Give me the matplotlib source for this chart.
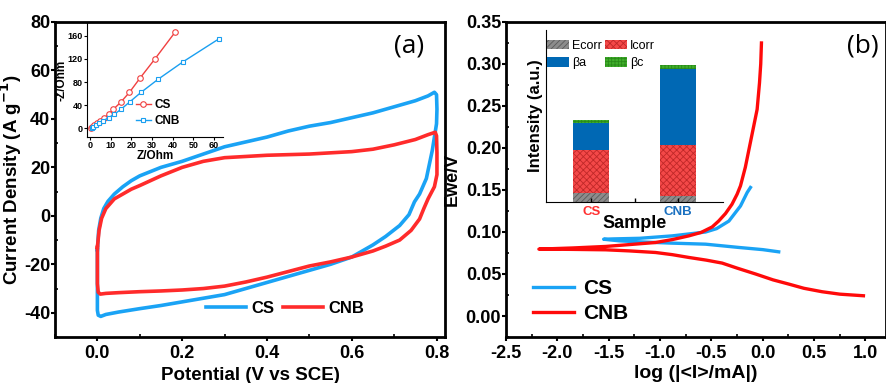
import numpy as np
import matplotlib
matplotlib.use('Agg')
import matplotlib.pyplot as plt
from matplotlib.patches import Patch
from matplotlib.ticker import MultipleLocator

plt.rcParams['font.family'] = ['Liberation Sans', 'DejaVu Sans']
plt.rcParams['axes.unicode_minus'] = False
plt.rcParams['hatch.linewidth'] = 0.6

# ---- (a) cyclic voltammetry ----
cs_v = [0.0, 0.003, 0.008, 0.015, 0.025, 0.04, 0.06, 0.08, 0.1, 0.15, 0.2, 0.25, 0.3, 0.35, 0.4,
        0.45, 0.5, 0.55, 0.6, 0.65, 0.7, 0.75, 0.78, 0.795, 0.8, 0.801, 0.8, 0.79, 0.776, 0.76,
        0.748, 0.735, 0.713, 0.68, 0.65, 0.6, 0.55, 0.5, 0.45, 0.4, 0.35, 0.3, 0.25, 0.2, 0.15,
        0.1, 0.05, 0.02, 0.008, 0.002, 0.0, 0.0, 0.0]
cs_j = [-14, -6, -1, 3, 6, 9, 12, 14.5, 16.5, 20, 22.5, 25.5, 28.5, 30.5, 32.5,
        35, 37, 38.5, 40.5, 42.5, 45, 47.5, 49.5, 51, 50, 44, 38, 27, 15.4, 9,
        5.8, 0.5, -4, -8.5, -12, -17, -20, -22.5, -25, -27.5, -30, -32.5, -34, -35.5, -37,
        -38.3, -39.7, -40.7, -41.5, -41, -39, -30, -14]

cnb_v = [0.0, 0.004, 0.01, 0.02, 0.03, 0.04, 0.06, 0.08, 0.1, 0.15, 0.2, 0.25, 0.3, 0.35, 0.4,
         0.5, 0.6, 0.65, 0.7, 0.75, 0.78, 0.797, 0.8, 0.801, 0.801, 0.795, 0.78, 0.77, 0.76,
         0.74, 0.713, 0.68, 0.65, 0.6, 0.55, 0.5, 0.45, 0.4, 0.35, 0.3, 0.25, 0.2, 0.15,
         0.1, 0.05, 0.02, 0.007, 0.002, 0.0, 0.0, 0.0]
cnb_j = [-13, -6, -1, 3, 5, 7, 9, 11, 12.5, 16.5, 20, 22.5, 24, 24.5, 25,
         25.5, 26.5, 27.5, 29.3, 31.5, 33.5, 34.5, 33, 26, 17, 12, 7, 3, -1.3,
         -6, -10, -12.5, -14.5, -17, -19, -20.7, -23, -25.3, -27.3, -29, -30, -30.6, -31,
         -31.3, -31.7, -32, -32.3, -31.5, -28, -20, -13]

# inset (a): Nyquist
eis_cs_re = [0.3, 1.0, 1.9, 3.2, 4.8, 6.9, 8.9, 11.3, 14.8, 19.0, 24.2, 31.4, 41.1]
eis_cs_im = [0, 2, 5, 9, 13, 18, 24, 33, 45, 62, 87, 120, 166]
eis_cnb_re = [0.8, 1.6, 2.9, 4.5, 6.4, 8.9, 11.6, 15.0, 19.3, 24.6, 33.0, 45.0, 62.5]
eis_cnb_im = [0, 2, 5, 9, 13, 18.5, 24, 33, 46, 62, 85, 115, 155]

# ---- (b) Tafel ----
cs_logi = [-0.12, -0.152, -0.217, -0.33, -0.45, -0.557, -0.88, -1.2, -1.45, -1.55,
           -1.4, -1.206, -0.9, -0.557, -0.233, 0.0, 0.155]
cs_e = [0.153, 0.147, 0.131, 0.113, 0.104, 0.1, 0.0954, 0.0925, 0.0918, 0.0914,
        0.0895, 0.0883, 0.0868, 0.0855, 0.0816, 0.079, 0.0764]
cnb_logi = [-0.013, -0.02, -0.032, -0.055, -0.09, -0.12, -0.17, -0.217, -0.25, -0.3, -0.363,
            -0.43, -0.493, -0.6, -0.72, -0.88, -1.044, -1.3, -1.53, -1.85, -2.18,
            -1.85, -1.53, -1.3, -1.044, -0.88, -0.72, -0.55, -0.396, -0.25, -0.07, 0.1,
            0.253, 0.4, 0.577, 0.75, 0.98]
cnb_e = [0.325, 0.3, 0.2775, 0.246, 0.225, 0.207, 0.177, 0.155, 0.145, 0.133, 0.122,
         0.113, 0.106, 0.0995, 0.0954, 0.091, 0.0875, 0.085, 0.0828, 0.081, 0.0796,
         0.0793, 0.0788, 0.0775, 0.0756, 0.073, 0.0697, 0.0665, 0.063, 0.057, 0.05, 0.043,
         0.038, 0.033, 0.0289, 0.026, 0.0241]

# inset (b): stacked bars
samples = ['CS', 'CNB']
ecorr = [9, 6]
icorr = [43.3, 50.7]
beta_a = [27, 76.6]
beta_c = [2.4, 4]

blue = '#1aa3f5'
red = '#ff2b2b'

fig = plt.figure(figsize=(8.87, 3.83), dpi=100)

# ---------- panel a ----------
ax1 = fig.add_axes([0.062, 0.1201, 0.4397, 0.8225])
ax1.plot(cs_v, cs_j, color=blue, lw=2.6, label='CS')
ax1.plot(cnb_v, cnb_j, color=red, lw=2.6, label='CNB')
ax1.set_xlim(-0.1, 0.82)
ax1.set_ylim(-50, 80)
ax1.xaxis.set_major_locator(MultipleLocator(0.2))
ax1.xaxis.set_minor_locator(MultipleLocator(0.1))
ax1.yaxis.set_major_locator(MultipleLocator(20))
ax1.yaxis.set_minor_locator(MultipleLocator(10))
ax1.set_xlabel('Potential (V vs SCE)', fontsize=13.5, fontweight='bold', labelpad=3)
ax1.set_ylabel(r'Current Density (A g$^{\mathbf{-1}}$)', fontsize=13.5, fontweight='bold')
ax1.yaxis.set_label_coords(-0.08, 0.5)
ax1.legend(loc='center', bbox_to_anchor=(0.59, 0.092), ncol=2, frameon=False,
           prop={'weight': 'bold', 'size': 12}, handlelength=2.4, handletextpad=0.35,
           columnspacing=0.5)
ax1.text(0.908, 0.925, '(a)', transform=ax1.transAxes, ha='center', va='center',
         fontsize=19, family='Open Sans')

# inset a
axa = fig.add_axes([0.0981, 0.6423, 0.1533, 0.2977])
axa.plot(eis_cs_re, eis_cs_im, color='#f04040', lw=1, marker='o', ms=4, mfc='white',
         mew=0.8, label='CS')
axa.plot(eis_cnb_re, eis_cnb_im, color='#1a9ff0', lw=1, marker='s', ms=3.5, mfc='white',
         mew=0.8, label='CNB')
axa.set_xlim(-1.5, 64.3)
axa.set_ylim(-15, 182)
axa.set_xticks([0, 10, 20, 30, 40, 50, 60])
axa.set_yticks([0, 40, 80, 120, 160])
axa.spines['top'].set_visible(False)
axa.spines['right'].set_visible(False)
axa.patch.set_alpha(0)
axa.tick_params(labelsize=6.5, length=2, width=0.8, pad=1)
for lb in axa.get_xticklabels() + axa.get_yticklabels():
    lb.set_fontweight('bold')
axa.set_xlabel('Z/Ohm', fontsize=8.5, fontweight='bold', labelpad=0)
axa.set_ylabel('-Z/Ohm', fontsize=8.5, fontweight='bold', labelpad=0)
axa.legend(loc='center', bbox_to_anchor=(0.52, 0.21), frameon=False,
           prop={'weight': 'bold', 'size': 8.5}, handlelength=1.3, handletextpad=0.3,
           labelspacing=0.35)

# ---------- panel b ----------
ax2 = fig.add_axes([0.5705, 0.1201, 0.4284, 0.8225])
ax2.plot(cs_logi, cs_e, color=blue, lw=2.4, label='CS')
ax2.plot(cnb_logi, cnb_e, color='#ff0a0a', lw=2.4, label='CNB')
ax2.set_xlim(-2.5, 1.2)
ax2.set_ylim(-0.025, 0.35)
ax2.xaxis.set_major_locator(MultipleLocator(0.5))
ax2.xaxis.set_minor_locator(MultipleLocator(0.25))
ax2.yaxis.set_major_locator(MultipleLocator(0.05))
ax2.yaxis.set_minor_locator(MultipleLocator(0.025))
ax2.set_xlabel('log (|<I>/mA|)', fontsize=14, fontweight='bold', labelpad=2)
ax2.set_ylabel('Ewe/V', fontsize=13, fontweight='bold')
ax2.yaxis.set_label_coords(-0.118, 0.5)
ax2.legend(loc='center left', bbox_to_anchor=(0.021, 0.114), frameon=False,
           prop={'weight': 'bold', 'size': 15}, handlelength=2.0, handletextpad=0.4,
           labelspacing=0.3)
ax2.text(0.938, 0.925, '(b)', transform=ax2.transAxes, ha='center', va='center',
         fontsize=19, family='Open Sans')

for ax in (ax1, ax2):
    for sp in ax.spines.values():
        sp.set_linewidth(2)
    ax.tick_params(which='major', direction='out', length=3, width=1.5, labelsize=13)
    ax.tick_params(which='minor', direction='in', length=2.5, width=1.2)
    ax.tick_params(axis='x', which='major', pad=3)
    ax.tick_params(axis='y', which='major', pad=0.5)
    for lb in ax.get_xticklabels() + ax.get_yticklabels():
        lb.set_fontweight('bold')

# inset b
axb = fig.add_axes([0.6156, 0.4726, 0.1996, 0.449])
xpos = np.arange(1, len(samples) + 1)
w = 0.42
b1 = np.array(ecorr)
b2 = b1 + np.array(icorr)
b3 = b2 + np.array(beta_a)
axb.bar(xpos, ecorr, w, color='#8c8c8c', edgecolor='#5a5a5a', hatch='//////', lw=0)
axb.bar(xpos, icorr, w, bottom=b1, color='#f44848', edgecolor='#c02828', hatch='xxxxx', lw=0)
axb.bar(xpos, beta_a, w, bottom=b2, color='#0068b4', lw=0)
axb.bar(xpos, beta_c, w, bottom=b3, color='#3fae2a', edgecolor='#2a8a1a', hatch='+++++', lw=0)
axb.set_xlim(0.48, 2.52)
axb.set_ylim(0, 172)
axb.set_xticks(xpos)
axb.set_xticklabels(samples)
axb.set_xticks([1.5], minor=True)
axb.set_yticks([])
axb.spines['top'].set_visible(False)
axb.spines['right'].set_visible(False)
axb.patch.set_alpha(0)
axb.tick_params(which='both', axis='x', direction='in', length=3, width=1, pad=3)
for lb, c in zip(axb.get_xticklabels(), ['#ff3030', '#1a70c0']):
    lb.set_color(c)
    lb.set_fontweight('bold')
    lb.set_fontsize(9.5)
axb.set_xlabel('Sample', fontsize=13, fontweight='bold', labelpad=-2)
axb.set_ylabel('Intensity (a.u.)', fontsize=12, fontweight='bold', labelpad=2)
handles = [Patch(facecolor='#8c8c8c', edgecolor='#5a5a5a', hatch='//////', lw=0, label='Ecorr'),
           Patch(facecolor='#0068b4', lw=0, label='βa'),
           Patch(facecolor='#f44848', edgecolor='#c02828', hatch='xxxxx', lw=0, label='Icorr'),
           Patch(facecolor='#3fae2a', edgecolor='#2a8a1a', hatch='+++++', lw=0, label='βc')]
axb.legend(handles=handles, ncol=2, loc='upper left', bbox_to_anchor=(-0.06, 1.01),
           frameon=False, fontsize=9, handlelength=1.8, handleheight=0.8,
           handletextpad=0.25, columnspacing=0.2, labelspacing=0.45)

fig.savefig('out.png', dpi=100)
